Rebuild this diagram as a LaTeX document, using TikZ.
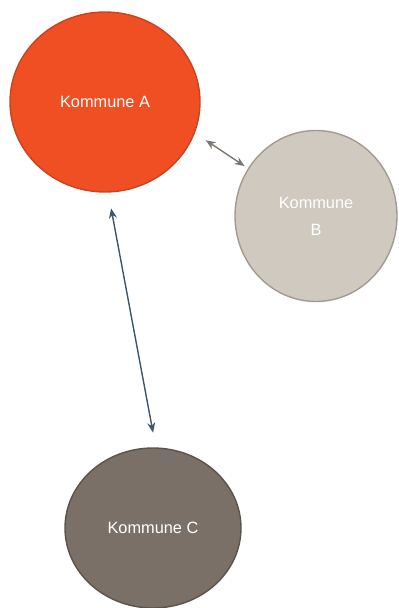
\documentclass[tikz,border=0pt]{standalone}
\usepackage{fontspec}
\setmainfont{Liberation Sans}
\usepackage{tikz}
\usetikzlibrary
  {
    arrows.meta,      % arrow tips
    shapes.geometric, % ellipse nodes
  }

\definecolor{orangeA}{HTML}{F04E23}
\definecolor{orangeAline}{HTML}{C8441F}
\definecolor{sandB}{HTML}{D0C9BF}
\definecolor{sandBline}{HTML}{A39A8F}
\definecolor{taupeC}{HTML}{7A7068}
\definecolor{taupeCline}{HTML}{5A524B}
\definecolor{linkAB}{HTML}{7D766F}
\definecolor{linkAC}{HTML}{3E566C}

\begin{document}
\begin{tikzpicture}
    [
      x=1bp,
      y=-1bp,
      kommune/.style=
        {
          ellipse,
          inner sep=0pt,
          line width=1.4bp,
          text=white,
          align=center,
          font=\fontsize{16.4}{27}\selectfont,
        },
      link/.style=
        {
          line width=1.4bp,
          {Stealth[length=10bp,width=8bp]}-{Stealth[length=10bp,width=8bp]},
        }
    ]
    \useasboundingbox (0,0) rectangle (398,608);

    \node (A) [kommune, minimum width=190bp, minimum height=180bp,
               fill=orangeA, draw=orangeAline] at (105,102) {Kommune A};
    \node (B) [kommune, minimum width=162bp, minimum height=171bp,
               fill=sandB, draw=sandBline] at (316,216) {Kommune\\B};
    \node (C) [kommune, minimum width=176bp, minimum height=160bp,
               fill=taupeC, draw=taupeCline] at (153,528) {Kommune C};

    % links between the municipalities
    \draw [link, draw=linkAB, fill=linkAB, shorten <=13bp, shorten >=4bp]
      (A.-19) -- (B.145);
    \draw [link, draw=linkAC, fill=linkAC, shorten <=16bp, shorten >=15bp]
      (A.-88) -- (C.88);
\end{tikzpicture}
\end{document}
